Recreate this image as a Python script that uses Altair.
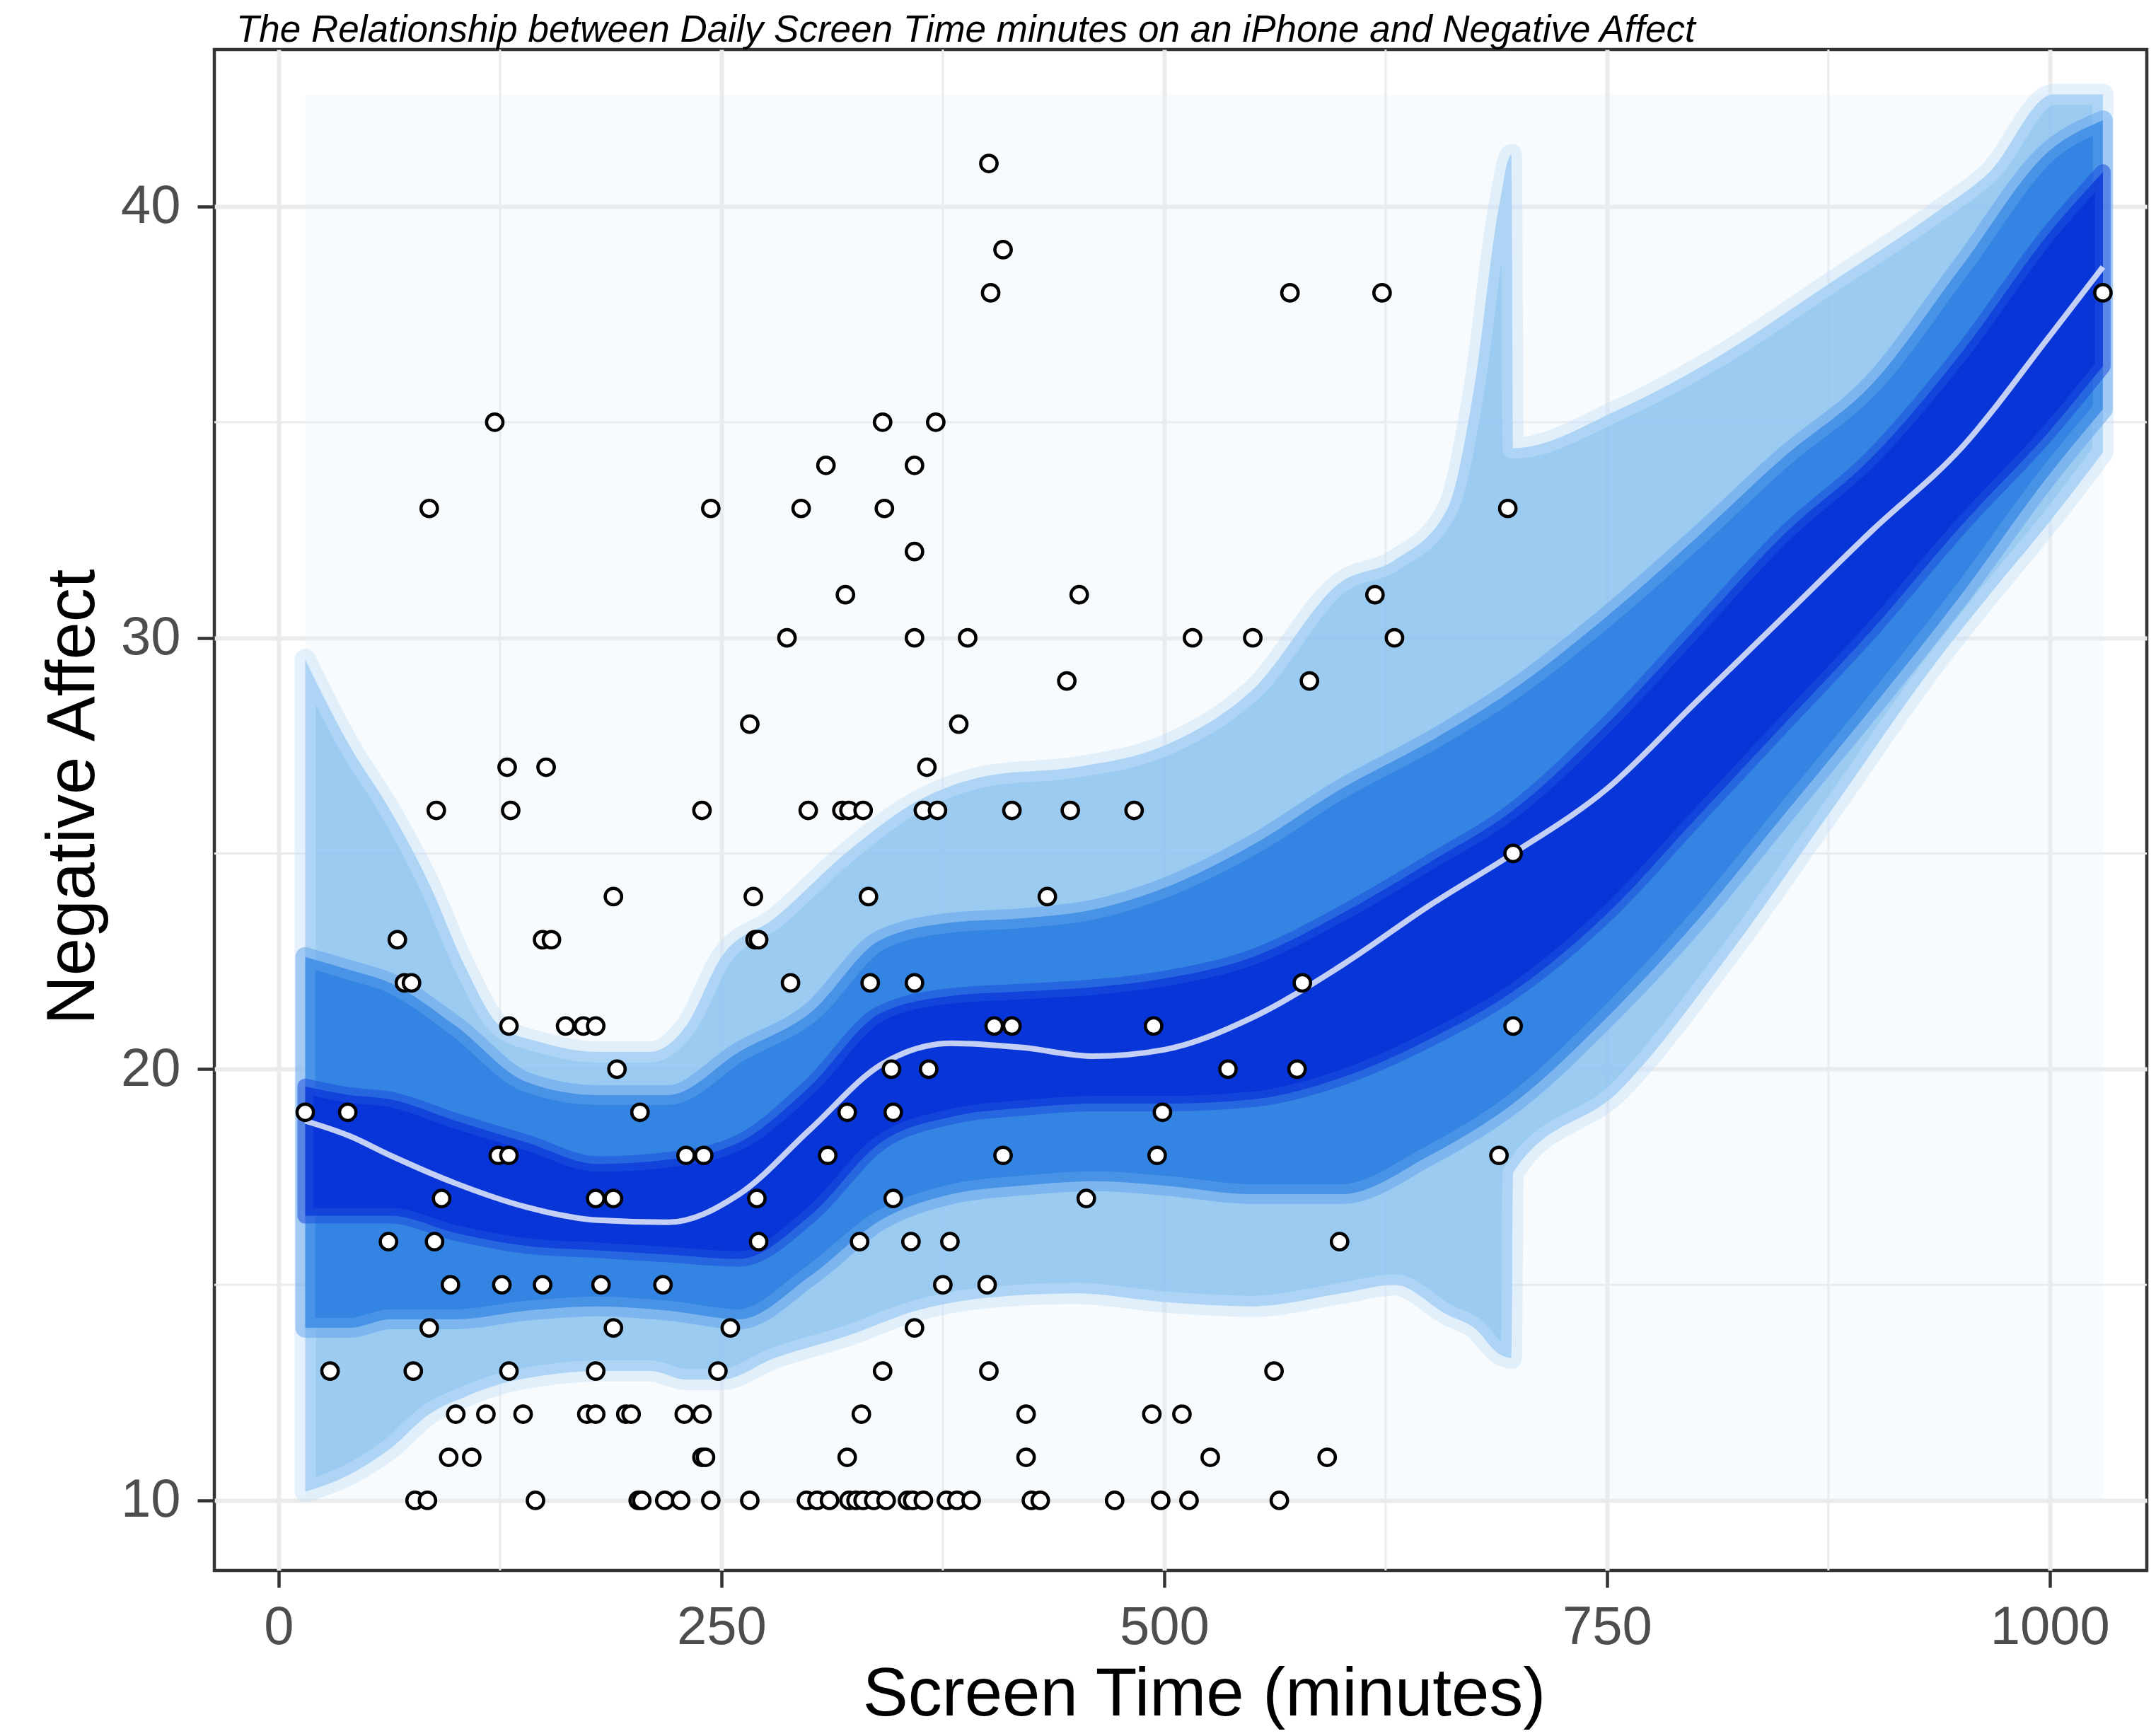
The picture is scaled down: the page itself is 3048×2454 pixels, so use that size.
import altair as alt
import pandas as pd

FONT = "Liberation Sans"

screen_time = [
    77, 84, 145, 203, 205, 218, 227, 244, 266, 298, 304, 311, 322, 326, 330,
    336, 343, 355, 358, 364, 377, 383, 391, 425, 430, 472, 498, 514, 565,
    96, 109, 239, 241, 321, 422, 526, 592,
    100, 117, 138, 174, 179, 196, 199, 229, 239, 329, 422, 493, 510,
    29, 76, 130, 179, 248, 341, 401, 562,
    85, 189, 255, 359,
    97, 126, 149, 182, 217, 375, 400,
    62, 88, 271, 328, 357, 379, 599,
    92, 179, 189, 270, 347, 456,
    124, 130, 230, 240, 310, 409, 496, 689,
    15, 39, 204, 321, 347, 499,
    191, 346, 367, 536, 575,
    130, 162, 172, 179, 404, 414, 494, 697,
    71, 75, 289, 334, 359, 578,
    67, 149, 154, 269, 271,
    189, 268, 333, 434,
    697,
    89, 131, 239, 299, 318, 322, 330, 364, 372, 414, 447, 483,
    129, 151, 366,
    266, 384,
    445, 582,
    287, 359, 389, 516, 550, 630,
    320, 452, 619,
    359,
    85, 244, 295, 342, 694,
    309, 359,
    122, 341, 371,
    402, 571, 623, 1030,
    409,
    401,
]
negative_affect = [
    10, 10, 10, 10, 10, 10, 10, 10, 10, 10, 10, 10, 10, 10, 10,
    10, 10, 10, 10, 10, 10, 10, 10, 10, 10, 10, 10, 10, 10,
    11, 11, 11, 11, 11, 11, 11, 11,
    12, 12, 12, 12, 12, 12, 12, 12, 12, 12, 12, 12, 12,
    13, 13, 13, 13, 13, 13, 13, 13,
    14, 14, 14, 14,
    15, 15, 15, 15, 15, 15, 15,
    16, 16, 16, 16, 16, 16, 16,
    17, 17, 17, 17, 17, 17,
    18, 18, 18, 18, 18, 18, 18, 18,
    19, 19, 19, 19, 19, 19,
    20, 20, 20, 20, 20,
    21, 21, 21, 21, 21, 21, 21, 21,
    22, 22, 22, 22, 22, 22,
    23, 23, 23, 23, 23,
    24, 24, 24, 24,
    25,
    26, 26, 26, 26, 26, 26, 26, 26, 26, 26, 26, 26,
    27, 27, 27,
    28, 28,
    29, 29,
    30, 30, 30, 30, 30, 30,
    31, 31, 31,
    32,
    33, 33, 33, 33, 33,
    34, 34,
    35, 35, 35,
    38, 38, 38, 38,
    39,
    41,
]

# ---------------- smoother and its uncertainty bands ----------------
fit_x = [15, 40, 63, 100, 140, 180, 220, 260, 300, 340, 380, 420, 460,
         500, 550, 600, 650, 697, 750, 800, 850, 900, 950, 1000, 1030]
fit_y = [18.8, 18.45, 18.0, 17.35, 16.8, 16.5, 16.45, 17.1, 18.6, 20.1, 20.6,
         20.5, 20.3, 20.45, 21.2, 22.4, 23.8, 25.0, 26.5, 28.5, 30.5, 32.5,
         34.4, 37.0, 38.6]

core_lo = [16.6, 16.6, 16.6, 16.2, 15.9, 15.8, 15.7, 15.6, 16.6, 18.3, 18.9,
           19.1, 19.2, 19.2, 19.3, 19.8, 20.7, 21.8, 23.6, 25.8, 28.0, 30.2,
           32.6, 34.8, 36.3]
core_hi = [19.6, 19.4, 19.3, 18.8, 18.3, 17.8, 17.9, 18.3, 19.6, 21.3, 21.7,
           21.8, 21.9, 22.1, 22.6, 23.6, 24.8, 26.0, 28.0, 30.2, 32.4, 34.2,
           36.6, 39.4, 40.8]

mid_lo = [14.0, 14.0, 14.2, 14.2, 14.4, 14.5, 14.4, 14.2, 15.2, 16.5, 17.1,
          17.3, 17.4, 17.3, 17.1, 17.1, 18.0, 19.2, 21.2, 23.4, 25.9, 28.4,
          31.0, 33.8, 35.3]
mid_hi = [22.6, 22.3, 22.0, 21.0, 19.7, 19.4, 19.4, 20.4, 21.3, 23.0, 23.4,
          23.5, 23.7, 24.2, 25.2, 26.5, 27.6, 28.8, 30.5, 32.3, 34.2, 35.9,
          38.6, 41.3, 42.0]

light_x = [15, 40, 63, 85, 105, 125, 150, 180, 210, 230, 250, 280, 320, 360,
           400, 450, 500, 550, 600, 630, 660, 675, 689, 696, 697, 757, 816,
           875, 937, 966, 1002, 1030]
light_lo = [10.2, 10.6, 11.2, 12.0, 12.4, 12.7, 12.9, 13.0, 13.0, 12.8, 12.8,
            13.3, 13.8, 14.4, 14.7, 14.8, 14.6, 14.5, 14.8, 15.0, 14.3, 14.0,
            13.4, 13.3, 17.6, 19.5, 22.5, 25.9, 29.5, 31.0, 32.8, 34.3]
light_hi = [29.5, 27.5, 26.0, 24.3, 22.4, 21.0, 20.6, 20.4, 20.4, 21.0, 22.6,
            23.5, 25.0, 26.2, 26.8, 27.0, 27.5, 28.8, 31.3, 31.8, 33.0, 35.8,
            40.0, 41.2, 34.4, 35.3, 36.6, 38.2, 39.9, 40.8, 42.6, 42.6]

haze_x = [15, 1030]
haze_lo = [10.0, 10.0]
haze_hi = [42.6, 42.6]

# ---------------- axes ----------------
x_major = [0, 250, 500, 750, 1000]
x_minor = [125, 375, 625, 875]
y_major = [10, 20, 30, 40]
y_minor = [15, 25, 35]

W, H = 2732, 2150
x_scale = alt.Scale(domain=[-36.34, 1054.8], nice=False, zero=False)
y_scale = alt.Scale(domain=[8.376, 43.641], nice=False, zero=False)

common_axis = dict(
    grid=True, gridColor="#EBEBEB", gridWidth=6, domain=False,
    ticks=True, tickColor="#333333", tickWidth=4.5, tickSize=24,
    labelFont=FONT, labelFontSize=76, labelColor="#4D4D4D",
    labelFlush=False, labelOverlap=False, format="d",
    titleFont=FONT, titleFontSize=96, titleFontWeight="normal",
    titleColor="#000000", titleBaseline="alphabetic", titleAlign="center",
)
x_axis = alt.Axis(values=x_major, labelPadding=19, titleX=1399, titleY=204,
                  **common_axis)
y_axis = alt.Axis(values=y_major, labelPadding=24, titleX=-171, titleY=1056,
                  titleAngle=270, **common_axis)


def ex():
    return alt.X("x:Q", scale=x_scale, axis=x_axis, title="Screen Time (minutes)")


def ey():
    return alt.Y("y:Q", scale=y_scale, axis=y_axis, title="Negative Affect")


pts_df = pd.DataFrame({"x": screen_time, "y": negative_affect})
fit_df = pd.DataFrame({"x": fit_x, "y": fit_y})
core_df = pd.DataFrame({"x": fit_x, "y": core_lo, "y2": core_hi})
mid_df = pd.DataFrame({"x": fit_x, "y": mid_lo, "y2": mid_hi})
light_df = pd.DataFrame({"x": light_x, "y": light_lo, "y2": light_hi})
haze_df = pd.DataFrame({"x": haze_x, "y": haze_lo, "y2": haze_hi})

vgrid = alt.Chart(pd.DataFrame({"x": x_minor})).mark_rule(
    color="#EBEBEB", strokeWidth=3).encode(x=ex())
hgrid = alt.Chart(pd.DataFrame({"y": y_minor})).mark_rule(
    color="#EBEBEB", strokeWidth=3).encode(y=ey())

haze = alt.Chart(haze_df).mark_area(fill="#E3EFFB", fillOpacity=0.28).encode(
    x=ex(), y=ey(), y2="y2:Q")

light = alt.Chart(light_df).mark_area(
    interpolate="monotone", fill="#8CC2F0", fillOpacity=0.85,
    stroke="#C6E1F8", strokeWidth=30, strokeOpacity=0.45, strokeJoin="round",
).encode(x=ex(), y=ey(), y2="y2:Q")

mid = alt.Chart(mid_df).mark_area(
    interpolate="monotone", fill="#2B7FE2", fillOpacity=0.92,
    stroke="#5EA2EA", strokeWidth=28, strokeOpacity=0.5, strokeJoin="round",
).encode(x=ex(), y=ey(), y2="y2:Q")

core = alt.Chart(core_df).mark_area(
    interpolate="monotone", fill="#0630D6", fillOpacity=0.95,
    stroke="#1B4EDD", strokeWidth=22, strokeOpacity=0.55, strokeJoin="round",
).encode(x=ex(), y=ey(), y2="y2:Q")

fit_line = alt.Chart(fit_df).mark_line(
    interpolate="monotone", color="#D8E0F8", strokeWidth=8, opacity=0.9,
).encode(x=ex(), y=ey())

points = alt.Chart(pts_df).mark_point(
    filled=True, fill="white", stroke="black", strokeWidth=4.5, size=540,
    opacity=1, shape="circle",
).encode(x=ex(), y=ey())

chart = alt.layer(
    vgrid, hgrid, haze, light, mid, core, fit_line, points
).properties(
    width=W,
    height=H,
    padding={"left": 295, "top": 62, "right": 5, "bottom": 226},
    autosize=alt.AutoSizeParams(type="none"),
    title=alt.TitleParams(
        text="The Relationship between Daily Screen Time minutes on an iPhone and Negative Affect",
        font=FONT, fontSize=53, fontStyle="italic", fontWeight="normal",
        color="#000000", anchor="start", frame="group", dx=31, dy=57, offset=14,
        baseline="alphabetic",
    ),
).configure(background="white").configure_view(stroke="#333333", strokeWidth=4.5)

chart.save("out.html", embed_options={"renderer": "svg", "actions": False})
